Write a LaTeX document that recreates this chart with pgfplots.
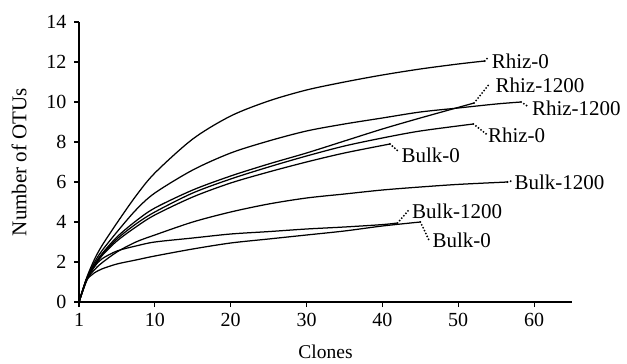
\documentclass[border=0pt]{standalone}
\usepackage{fontspec}
\setmainfont{Liberation Serif}
\usepackage{pgfplots}
\pgfplotsset{compat=1.18}
\begin{document}
\begin{tikzpicture}
\begin{axis}[name=ax, scale only axis, width=493pt, height=280pt,
  xmin=0, xmax=65, ymin=0, ymax=14,
  axis x line*=bottom, axis y line*=left,
  xtick={0,10,...,60}, xticklabels={1,10,20,30,40,50,60},
  ytick={0,2,...,14},
  tick align=outside, major tick length=5pt,
  tick style={black, line width=1.1pt},
  axis line style={black, line width=1.1pt},
  ticklabel style={font=\fontsize{20}{22}\selectfont},
  xticklabel style={yshift=-3pt},
  yticklabel style={xshift=-4pt},
  /pgf/number format/assume math mode=true,
  xlabel={Clones}, ylabel={Number of OTUs},
  xlabel style={font=\fontsize{19.5}{21}\selectfont, yshift=-11pt},
  ylabel style={font=\fontsize{21}{23}\selectfont, yshift=13pt},
  clip=false,
]
\pgfplotsset{crv/.style={black, solid, line width=1.25pt, no marks, smooth, tension=0.5}}
% Rhiz-0 (top)
\addplot[crv] coordinates {(0,0) (1,1.2) (2,2.1) (3,2.8) (5,3.95) (7.5,5.3) (10,6.45) (15,8.15) (20,9.3) (25,10.05) (30,10.6) (35,11.0) (40,11.35) (45,11.65) (50,11.9) (53.5,12.05)};
% Rhiz-1200 (right)
\addplot[crv] coordinates {(0,0) (1,1.15) (2,1.95) (3,2.55) (5,3.5) (7.5,4.6) (10,5.45) (15,6.6) (20,7.45) (25,8.05) (30,8.55) (35,8.9) (40,9.2) (45,9.5) (50,9.7) (55,9.9) (58.3,10.0)};
% Rhiz-1200 (steep)
\addplot[crv] coordinates {(0,0) (1,1.15) (2,1.85) (3,2.4) (5,3.25) (7.5,4.05) (10,4.7) (15,5.6) (20,6.3) (25,6.9) (30,7.45) (35,8.05) (40,8.65) (45,9.2) (52.1,9.95)};
% Rhiz-0 (second)
\addplot[crv] coordinates {(0,0) (1,1.15) (2,1.8) (3,2.35) (5,3.15) (7.5,3.9) (10,4.5) (15,5.45) (20,6.15) (25,6.75) (30,7.3) (35,7.8) (40,8.2) (45,8.55) (52,8.9)};
% Bulk-0 (upper)
\addplot[crv] coordinates {(0,0) (1,1.15) (2,1.75) (3,2.3) (5,3.05) (7.5,3.75) (10,4.35) (15,5.25) (20,5.95) (25,6.5) (30,7.0) (35,7.45) (41,7.9)};
% Bulk-1200 (upper)
\addplot[crv] coordinates {(0,0) (1,1.1) (2,1.6) (3,1.95) (5,2.5) (7.5,3.0) (10,3.35) (15,4.0) (20,4.5) (25,4.9) (30,5.2) (35,5.4) (40,5.6) (45,5.75) (50,5.88) (56.5,6.0)};
% Bulk-1200 (lower)
\addplot[crv] coordinates {(0,0) (1,1.1) (2,1.75) (3,2.15) (5,2.55) (7.5,2.8) (10,3.0) (15,3.2) (20,3.4) (25,3.52) (30,3.65) (35,3.75) (40,3.87) (42,3.95)};
% Bulk-0 (lower)
\addplot[crv] coordinates {(0,0) (1,1.05) (1.5,1.3) (2,1.45) (3,1.65) (5,1.9) (7.5,2.1) (10,2.3) (15,2.65) (20,2.95) (25,3.15) (30,3.35) (35,3.55) (40,3.8) (45,4.0)};
% leader lines
\pgfplotsset{leader/.style={black, line width=2.1pt, dash pattern=on 0pt off 3.2pt, line cap=round}}
\addplot[leader] coordinates {(53.5,12.05) (54.0,12.25)};
\addplot[leader] coordinates {(52.1,9.95) (54.1,10.9)};
\addplot[leader] coordinates {(58.3,10.0) (59.3,9.75)};
\addplot[leader] coordinates {(52,8.9) (53.7,8.4)};
\addplot[leader] coordinates {(41,7.9) (42.2,7.5)};
\addplot[leader] coordinates {(56.5,6.0) (57.0,6.05)};
\addplot[leader] coordinates {(42,3.95) (43.6,4.65)};
\addplot[leader] coordinates {(45,4.0) (46.2,3.05)};
% labels
\tikzset{lab/.style={anchor=west, inner sep=0pt, font=\fontsize{21}{23}\selectfont}}
\node[lab] at (axis cs:54.4,12.05) {Rhiz-0};
\node[lab] at (axis cs:54.9,10.85) {Rhiz-1200};
\node[lab] at (axis cs:59.7,9.7) {Rhiz-1200};
\node[lab] at (axis cs:53.9,8.35) {Rhiz-0};
\node[lab] at (axis cs:42.5,7.35) {Bulk-0};
\node[lab] at (axis cs:57.4,6.0) {Bulk-1200};
\node[lab] at (axis cs:43.9,4.55) {Bulk-1200};
\node[lab] at (axis cs:46.6,3.1) {Bulk-0};
\end{axis}
\path (ax.south west) +(-79pt,-61pt);
\path (ax.north east) +(55pt,22pt);
\end{tikzpicture}
\end{document}
